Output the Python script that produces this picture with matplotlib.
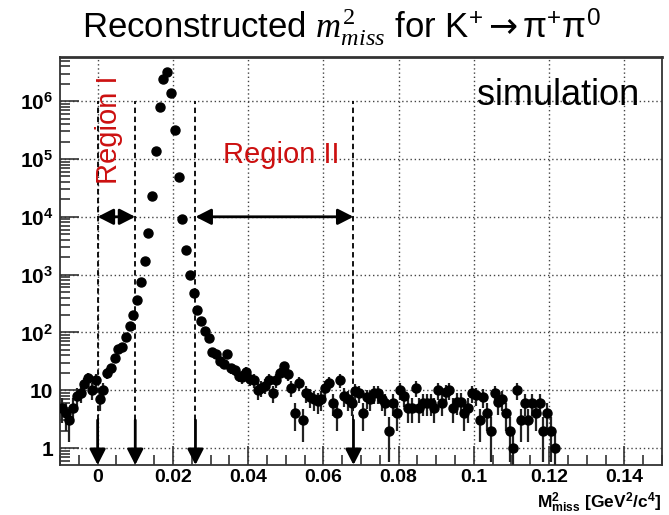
import matplotlib
matplotlib.use("Agg")
import matplotlib.pyplot as plt
import numpy as np
from matplotlib.ticker import FixedLocator, LogLocator, NullFormatter

plt.rcParams['font.family'] = ['Liberation Sans', 'DejaVu Sans']
plt.rcParams['mathtext.fontset'] = 'custom'
plt.rcParams['mathtext.rm'] = 'Liberation Serif'
plt.rcParams['mathtext.it'] = 'Liberation Serif:italic'
plt.rcParams['mathtext.bf'] = 'Liberation Sans:bold'
plt.rcParams['mathtext.sf'] = 'Liberation Sans'
plt.rcParams['mathtext.tt'] = 'DejaVu Sans'  # only used for the arrow in the title

# histogram: 1 MeV^2 bins starting at -0.01
bin_lo = -0.01
bin_w = 0.001
counts = [
    5, 4, 3, 5, 8, 9, 13, 16, 10, 15,
    7, 10, 20, 24, 36, 52, 56, 84, 130, 200,
    370, 760, 1700, 5200, 23000, 140000, 780000, 2400000, 3200000, 1400000,
    320000, 49000, 9300, 2700, 1000, 480, 240, 160, 107, 81,
    46, 43, 32, 29, 42, 24, 22, 18, 17, 21,
    15.6, 15, 10, 11, 12, 15, 9, 15, 20, 26,
    19, 11, 4, 13.5, 3, 9, 7.7, 7, 6.5, 7,
    11, 13.5, 6, 4, 15, 8, 7, 6, 9.7, 9,
    4, 7.5, 7, 8.8, 8.8, 7, 6, 2, 6, 4,
    10, 8, 5, 5, 11, 5, 6, 6, 6, 5,
    10, 6, 9.4, 10, 5, 6.3, 6.3, 4, 5, 9,
    8.2, 3, 7.7, 4, 2, 9, 6.3, 7, 4, 2,
    1, 10, 3, 6, 3, 6, 4, 6, 2, 4,
    2, 1,
]

cut_edges = [0.0, 0.010, 0.026, 0.068]
x_ticks = [0, 0.02, 0.04, 0.06, 0.08, 0.10, 0.12, 0.14]
x_labels = ['0', '0.02', '0.04', '0.06', '0.08', '0.1', '0.12', '0.14']
y_ticks = [1, 10, 1e2, 1e3, 1e4, 1e5, 1e6]
y_labels = ['1', '10', r'$\mathbf{10^{2}}$', r'$\mathbf{10^{3}}$', r'$\mathbf{10^{4}}$',
            r'$\mathbf{10^{5}}$', r'$\mathbf{10^{6}}$']

red = '#cc1010'
ymin, ymax = 0.51, 5.8e6

counts = np.array(counts, dtype=float)
x = bin_lo + bin_w * (np.arange(len(counts)) + 0.5)
err = np.sqrt(counts)
err_lo = np.minimum(err, counts - 0.3)

fig = plt.figure(figsize=(6.69, 5.15), dpi=100)
ax = fig.add_axes([0.0897, 0.0971, 0.8998, 0.7922])
ax.set_yscale('log')
ax.set_xlim(-0.01, 0.15)
ax.set_ylim(ymin, ymax)

ax.errorbar(x, counts, yerr=[err_lo, err], fmt='o', ms=6.5, color='black',
            ecolor='#222222', elinewidth=1.6, capsize=0, zorder=3)

ax.grid(True, which='major', ls=(0, (1, 2)), lw=1, color='#444444')

ax.xaxis.set_major_locator(FixedLocator(x_ticks))
ax.set_xticklabels(x_labels, fontsize=14, fontweight='bold')
ax.xaxis.set_minor_locator(FixedLocator(np.arange(-0.01, 0.1501, 0.005)))
ax.yaxis.set_major_locator(FixedLocator(y_ticks))
ax.set_yticklabels(y_labels, fontsize=15, fontweight='bold')
ax.yaxis.set_minor_locator(LogLocator(base=10, subs=np.arange(2, 10)))
ax.yaxis.set_minor_formatter(NullFormatter())
ax.tick_params(which='both', direction='in', top=False, right=False, width=1.2, color='#333333')
ax.tick_params(which='major', length=14)
ax.tick_params(axis='x', which='major', pad=3)
ax.tick_params(axis='y', which='major', pad=5)
ax.tick_params(which='minor', length=7)
for s in ax.spines.values():
    s.set_linewidth(1.3)
    s.set_color('#333333')
ax.spines['top'].set_linewidth(2)

# region boundaries with arrows down to the axis
for xv in cut_edges:
    ax.plot([xv, xv], [3.05, 1e6], ls=(0, (3, 2)), color='black', lw=1.3, zorder=2)
    ax.annotate('', xy=(xv, ymin), xytext=(xv, 3.05),
                arrowprops=dict(arrowstyle='-|>,head_length=0.47,head_width=0.24',
                                mutation_scale=20, lw=2, color='black',
                                shrinkA=0, shrinkB=0))

for a, b in [(cut_edges[0], cut_edges[1]), (cut_edges[2], cut_edges[3])]:
    ax.annotate('', xy=(b, 1e4), xytext=(a, 1e4),
                arrowprops=dict(arrowstyle='<|-|>,head_length=0.47,head_width=0.24',
                                mutation_scale=20, lw=2, color='black',
                                shrinkA=0, shrinkB=0))

ax.text(0.0031, 10**5.5, 'Region I', rotation=90, color=red, fontsize=21,
        ha='center', va='center')
ax.text(0.0487, 10**5.07, 'Region II', color=red, fontsize=21,
        ha='center', va='center')
ax.text(0.963, 0.882, 'simulation', transform=ax.transAxes, fontsize=26,
        ha='right', va='baseline')

fig.text(0.51, 0.948,
         r'Reconstructed $m^{2}_{miss}$ for K$^{\mathsf{+}}\mathtt{\rightarrow}$π$^{\mathsf{+}}$π$^{\mathsf{0}}$',
         fontsize=25, ha='center', va='center')
fig.text(0.989, 0.013,
         r'$\mathbf{M^{2}_{miss}}$ [GeV$^{\mathbf{2}}$/c$^{\mathbf{4}}$]',
         fontsize=12.5, fontweight='bold', ha='right', va='baseline')

fig.savefig('out.png', dpi=100)
